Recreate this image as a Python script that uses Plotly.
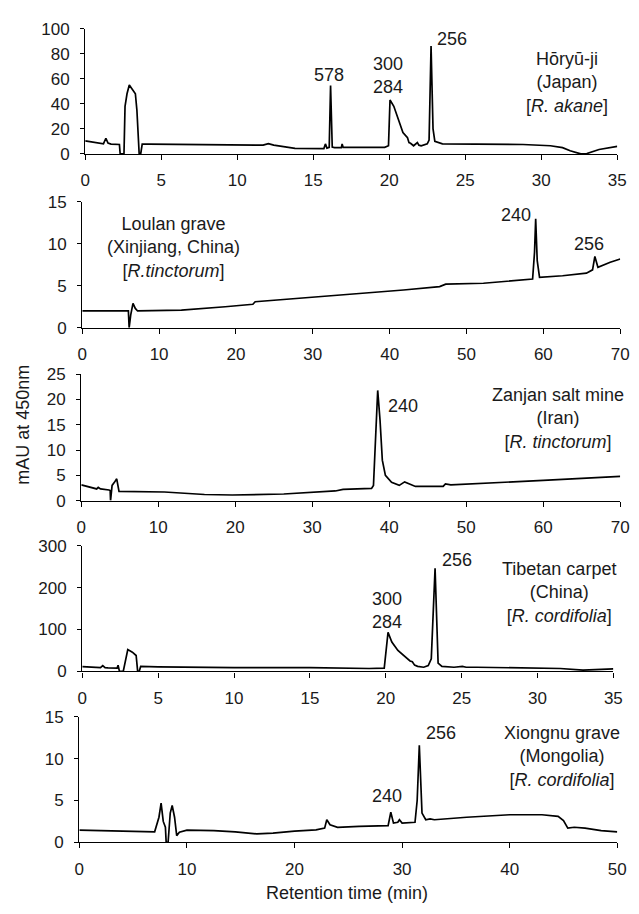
import plotly.graph_objects as go

# ---------------- data ----------------
# Panel 1: Hōryū-ji (Japan) [R. akane], x 0-35 min, y 0-100 mAU
horyuji_t = [0, 0.6, 1.2, 1.36, 1.5, 1.7, 2.25, 2.3, 2.55, 2.62, 2.75, 2.9, 3.15, 3.3, 3.4, 3.55,
             3.65, 3.75, 4.2, 8, 11.7, 12.05, 12.4, 13.8, 15.7, 15.8, 15.9, 16.05, 16.14, 16.25,
             16.4, 16.85, 16.9, 16.97, 19.7, 19.95, 20.05, 20.3, 20.6, 20.9, 21.2, 21.3, 21.4,
             21.6, 21.85, 21.95, 22.1, 22.5, 22.62, 22.75, 22.88, 23.0, 23.5, 26.5, 28.8, 30.6,
             31.4, 31.9, 32.6, 33.0, 33.8, 35]
horyuji_mau = [10.4, 9.2, 8.0, 12.5, 8.6, 7.8, 7.5, 0, 0, 38, 48, 55, 51, 48, 35, 0,
               0, 7.8, 7.8, 7.5, 7.0, 8.2, 7.0, 4.4, 4.3, 8, 4.6, 5.2, 54.5, 5.5,
               5.0, 5.0, 8, 5.2, 5.2, 6.5, 43, 38, 28, 17, 13, 9, 8.5,
               6.5, 9, 7, 6.5, 8, 11, 86, 20, 10, 8, 8.0, 7.5, 6.5,
               5, 2.5, 0, 0.3, 3.5, 6]

# Panel 2: Loulan grave (Xinjiang, China) [R. tinctorum], x 0-70, y 0-15
loulan_t = [0, 5.7, 6.0, 6.1, 6.3, 6.6, 6.9, 7.2, 10, 12.9, 18.6, 22.2, 22.5, 30, 37.7, 41.8, 46.5,
            47.3, 52.2, 58.6, 58.85, 59.0, 59.2, 59.5, 62.5, 65.6, 66.4, 66.7, 67.1, 68.7, 70]
loulan_mau = [2.0, 2.0, 2.0, 0, 1.5, 2.9, 2.3, 2.0, 2.05, 2.1, 2.5, 2.8, 3.1, 3.6, 4.2, 4.5, 4.9,
              5.2, 5.3, 5.8, 9, 13.0, 8, 6.0, 6.2, 6.5, 6.9, 8.5, 7.2, 7.8, 8.2]

# Panel 3: Zanjan salt mine (Iran) [R. tinctorum], x 0-70, y 0-25
zanjan_t = [0, 1.5, 2.0, 2.2, 2.5, 3.6, 3.75, 3.8, 4.0, 4.3, 4.6, 4.9, 10.8, 16, 19.6, 26.3,
            33, 34, 37.7, 37.95, 38.2, 38.5, 38.8, 39.1, 39.5, 40.3, 41.3, 42.0, 43.4, 47,
            47.3, 48, 60, 70]
zanjan_mau = [3.1, 2.5, 2.3, 2.6, 2.3, 2.1, 2.0, 0, 3.0, 3.6, 4.3, 1.8, 1.7, 1.2, 1.1, 1.3,
              1.9, 2.2, 2.4, 3.0, 12, 21.8, 16, 8, 5, 3.6, 3.0, 3.7, 2.8, 2.8,
              3.3, 3.1, 4.0, 4.8]

# Panel 4: Tibetan carpet (China) [R. cordifolia], x 0-35, y 0-300
tibet_t = [0, 1.2, 1.35, 1.5, 1.7, 2.3, 2.36, 2.45, 2.7, 2.85, 3.0, 3.3, 3.55, 3.65, 3.75,
           3.85, 5, 10, 15, 18.9, 19.9, 20.15, 20.4, 20.8, 21.3, 21.6, 21.75, 21.9, 22.1,
           22.5, 22.8, 23.0, 23.25, 23.45, 23.7, 24.5, 25.05, 25.3, 26, 30, 31.5, 33, 34.5, 35]
tibet_mau = [11.5, 9, 14, 9, 8.5, 8, 15, 0, 0, 25, 52, 46, 38, 0, 0,
             12, 11, 9, 9, 7, 8, 93, 70, 50, 35, 25, 23, 15, 12,
             10, 14, 30, 246, 20, 12, 10, 12, 10, 10, 9, 7, 3, 5, 6]

# Panel 5: Xiongnu grave (Mongolia) [R. cordifolia], x 0-50, y 0-15
xiongnu_t = [0, 5, 7, 7.4, 7.6, 7.8, 8.0, 8.07, 8.25, 8.45, 8.63, 8.85, 9.05, 9.3, 10, 12.5,
             14.5, 16.5, 18, 20, 22, 22.8, 23.0, 23.3, 24, 26, 28.7, 28.95, 29.2, 29.6, 29.75,
             30, 31.2, 31.4, 31.6, 31.85, 32.2, 32.6, 33, 36, 40, 43, 44.5, 45, 45.4, 46,
             47, 48.5, 50]
xiongnu_mau = [1.45, 1.3, 1.25, 3.0, 4.7, 2.5, 1.8, 0, 0, 3.5, 4.4, 3.0, 0.8, 1.2, 1.45, 1.4,
               1.25, 1.0, 1.1, 1.35, 1.5, 1.7, 2.7, 2.1, 1.8, 1.9, 2.0, 3.6, 2.3, 2.4, 2.7,
               2.3, 2.4, 5, 11.6, 3.5, 2.7, 2.8, 2.7, 3.0, 3.3, 3.3, 3.1, 2.6, 1.7, 1.8,
               1.7, 1.4, 1.25]

panels = [
    dict(t=horyuji_t, y=horyuji_mau, xr=35, xt=[0, 5, 10, 15, 20, 25, 30, 35],
         yr=100, yt=[0, 20, 40, 60, 80, 100]),
    dict(t=loulan_t, y=loulan_mau, xr=70, xt=[0, 10, 20, 30, 40, 50, 60, 70],
         yr=15, yt=[0, 5, 10, 15]),
    dict(t=zanjan_t, y=zanjan_mau, xr=70, xt=[0, 10, 20, 30, 40, 50, 60, 70],
         yr=25, yt=[0, 5, 10, 15, 20, 25]),
    dict(t=tibet_t, y=tibet_mau, xr=35, xt=[0, 5, 10, 15, 20, 25, 30, 35],
         yr=300, yt=[0, 100, 200, 300]),
    dict(t=xiongnu_t, y=xiongnu_mau, xr=50, xt=[0, 10, 20, 30, 40, 50],
         yr=15, yt=[0, 5, 10, 15]),
]

# ---------------- layout geometry (pixels) ----------------
W, H = 639, 914
boxes = [  # x0, x1, ytop, ybottom
    (82, 626, 20, 148),
    (79, 629, 197, 325.5),
    (78, 629, 373, 502),
    (79, 622, 548, 676.5),
    (76, 626, 723, 851),
]

FONT = "Liberation Sans, Arial, Helvetica, sans-serif"
FS_TICK = 17
FS_TXT = 18
COL = "#1a1a1a"

fig = go.Figure()
layout = dict(width=W, height=H, margin=dict(l=0, r=0, t=0, b=0),
              paper_bgcolor="white", plot_bgcolor="white", showlegend=False,
              font=dict(family=FONT, size=FS_TICK, color=COL))

for i, (p, b) in enumerate(zip(panels, boxes)):
    n = "" if i == 0 else str(i + 1)
    fig.add_trace(go.Scatter(x=p["t"], y=p["y"], mode="lines",
                             line=dict(color="black", width=1.7),
                             xaxis="x" + n, yaxis="y" + n, hoverinfo="skip"))
    x0, x1, yt, yb = b
    common = dict(showline=True, linecolor="black", linewidth=1.3, ticks="outside",
                  tickcolor="black", tickwidth=1.3, showgrid=False, zeroline=False,
                  tickfont=dict(family=FONT, size=FS_TICK, color=COL))
    layout["xaxis" + n] = dict(domain=[x0 / W, x1 / W], anchor="y" + n,
                               range=[0, p["xr"]], tickvals=p["xt"], ticklen=5,
                               ticklabelstandoff=6, **common)
    layout["yaxis" + n] = dict(domain=[1 - yb / H, 1 - yt / H], anchor="x" + n,
                               range=[0, p["yr"]], tickvals=p["yt"], ticklen=4,
                               ticklabelstandoff=7, **common)

fig.update_layout(**layout)

def ann(i, x, y, text, **kw):
    n = "" if i == 0 else str(i + 1)
    fig.add_annotation(x=x, y=y, xref="x" + n, yref="y" + n, text=text,
                       showarrow=False, xanchor="center", yanchor="middle",
                       font=dict(family=FONT, size=FS_TXT, color=COL), **kw)

# peak labels
ann(0, 16.06, 63, "578")
ann(0, 19.9, 71.5, "300")
ann(0, 19.9, 53, "284")
ann(0, 24.1, 92, "256")
ann(1, 56.5, 13.45, "240")
ann(1, 65.9, 10.0, "256")
ann(2, 41.8, 18.7, "240")
ann(3, 24.7, 265, "256")
ann(3, 20.1, 173, "300")
ann(3, 20.1, 117, "284")
ann(4, 33.6, 13.05, "256")
ann(4, 28.6, 5.5, "240")

# sample labels (three lines each)
ann(0, 31.7, 56.6, "Hōryū-ji<br>(Japan)<br>[<i>R. akane</i>]")
ann(1, 11.9, 9.6, "Loulan grave<br>(Xinjiang, China)<br>[<i>R.tinctorum</i>]")
ann(2, 61.9, 16.3, "Zanjan salt mine<br>(Iran)<br>[<i>R. tinctorum</i>]")
ann(3, 31.4, 188, "Tibetan carpet<br>(China)<br>[<i>R. cordifolia</i>]")
ann(4, 44.9, 10.3, "Xiongnu grave<br>(Mongolia)<br>[<i>R. cordifolia</i>]")

# axis titles
fig.add_annotation(x=19 / W, y=1 - 425 / H, xref="paper", yref="paper",
                   text="mAU at 450nm", textangle=-90, showarrow=False,
                   xanchor="center", yanchor="middle",
                   font=dict(family=FONT, size=FS_TXT, color=COL))
fig.add_annotation(x=350 / W, y=1 - 903 / H, xref="paper", yref="paper",
                   text="Retention time (min)", showarrow=False,
                   xanchor="center", yanchor="middle",
                   font=dict(family=FONT, size=FS_TXT, color=COL))

fig.write_html("out.html")
